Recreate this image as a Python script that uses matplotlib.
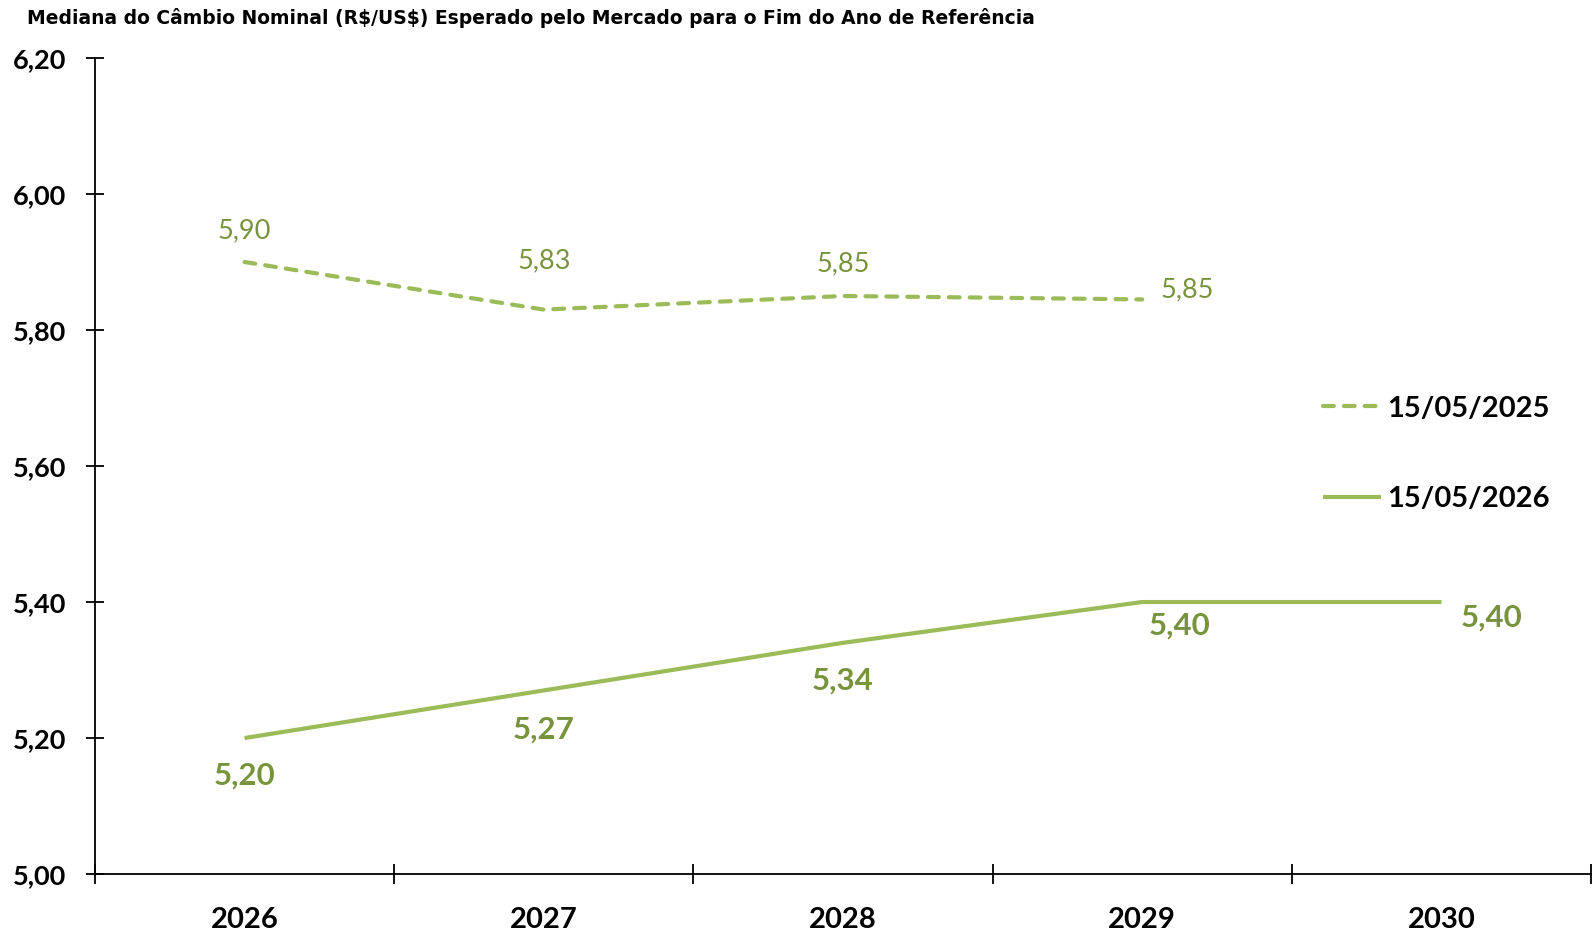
import matplotlib.pyplot as plt
import numpy as np

plt.rcParams['font.family'] = ['Lato', 'DejaVu Sans']

# data
anos = ['2026', '2027', '2028', '2029', '2030']
cambio_2025 = [5.90, 5.83, 5.85, 5.845]
cambio_2026 = [5.20, 5.27, 5.34, 5.40, 5.40]
rotulos_2025 = ['5,90', '5,83', '5,85', '5,85']
rotulos_2026 = ['5,20', '5,27', '5,34', '5,40', '5,40']
yticks = [5.00, 5.20, 5.40, 5.60, 5.80, 6.00, 6.20]

verde = '#9BBB59'
verde_escuro = '#77933C'

fig = plt.figure(figsize=(15.96, 9.34), dpi=100)
ax = fig.add_axes([0.0595, 0.0642, 0.9374, 0.8737])

x = np.arange(len(anos))
ax.plot(x[:len(cambio_2025)], cambio_2025, color=verde, lw=3, dashes=(2.6, 2.4),
        dash_capstyle='round', label='15/05/2025')
ax.plot(x, cambio_2026, color=verde, lw=3, solid_capstyle='butt', label='15/05/2026')

# data labels (offsets in pixels)
off_2025 = [(0, 31), (0, 49), (0, 32), (45, 10)]
off_2026 = [(0, -38), (0, -39), (0, -38), (37, -24), (50, -16)]
for xi, yi, t, o in zip(x, cambio_2025, rotulos_2025, off_2025):
    ax.annotate(t, (xi, yi), xytext=o, textcoords='offset pixels', ha='center', va='center',
                fontsize=19.5, color=verde_escuro)
for xi, yi, t, o in zip(x, cambio_2026, rotulos_2026, off_2026):
    ax.annotate(t, (xi, yi), xytext=o, textcoords='offset pixels', ha='center', va='center',
                fontsize=22.5, fontweight='bold', color=verde_escuro)

ax.set_xlim(-0.5, len(anos) - 0.5)
ax.set_ylim(5.0, 6.2)
ax.set_yticks(yticks)
ax.set_yticklabels([f'{v:.2f}'.replace('.', ',') for v in yticks], fontsize=19.5, fontweight='bold')
ax.set_xticks(x)
ax.set_xticklabels(anos, fontsize=21, fontweight='bold')
ax.set_xticks(np.arange(-0.5, len(anos)), minor=True)
ax.tick_params(axis='x', which='major', length=0, pad=24)
ax.tick_params(axis='x', which='minor', direction='inout', length=15, width=1.3)
ax.tick_params(axis='y', direction='inout', length=13, width=1.3, pad=14)

for s in ['top', 'right']:
    ax.spines[s].set_visible(False)
for s in ['left', 'bottom']:
    ax.spines[s].set_linewidth(1.3)

ax.legend(loc='center left', bbox_to_anchor=(0.803, 0.515), frameon=False,
          handlelength=2.0, handletextpad=0.2, labelspacing=2.2,
          prop={'weight': 'bold', 'size': 21})

fig.text(0.017, 1 - 18 / 934,
         r'Mediana do Câmbio Nominal (R\$/US\$) Esperado pelo Mercado para o Fim do Ano de Referência',
         fontsize=13.5, fontweight='bold', va='center', ha='left',
         family=['DejaVu Sans'])

fig.savefig('out.png', dpi=100)
